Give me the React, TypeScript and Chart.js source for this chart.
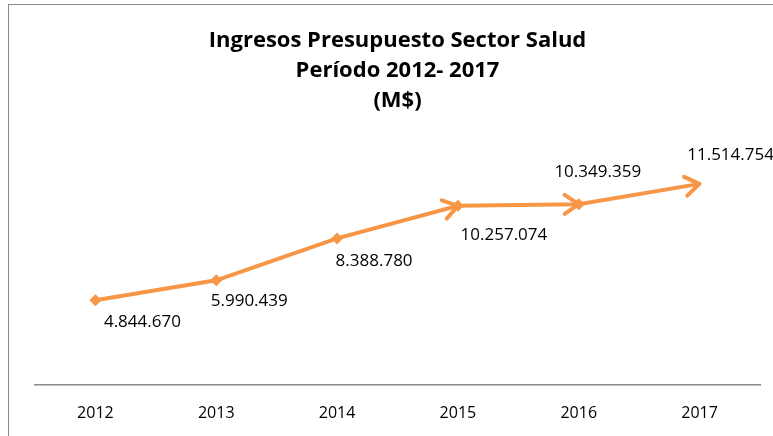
import React, { useEffect, useRef } from "react";
import { Chart, registerables } from "chart.js";

Chart.register(...registerables);

const titleLines = ["Ingresos Presupuesto Sector Salud", "Período 2012- 2017", "(M$)"];
const years = ["2012", "2013", "2014", "2015", "2016", "2017"];
const ingresos = [4844670, 5990439, 8388780, 10257074, 10349359, 11514754];
const valueLabels = ["4.844.670", "5.990.439", "8.388.780", "10.257.074", "10.349.359", "11.514.754"];

// style: label offsets relative to the point (px)
const labelDX = [47, 33, 37, 46, 19, 31];
const labelDY = [22, 21, 23, 29, -32, -29];
const arrowEnds = [3, 4, 5];
const ORANGE = "#F79646";
const FONT = "'Open Sans', sans-serif";

const decorPlugin = {
  id: "decor",
  afterDatasetsDraw(chart: any) {
    const ctx = chart.ctx;
    const meta = chart.getDatasetMeta(0);
    const pts = meta.data;
    ctx.save();
    ctx.strokeStyle = ORANGE;
    ctx.lineWidth = 4;
    ctx.lineCap = "round";
    ctx.lineJoin = "round";
    arrowEnds.forEach((i) => {
      const a = pts[i - 1];
      const b = pts[i];
      const ang = Math.atan2(b.y - a.y, b.x - a.x);
      const len = 17;
      const spread = (34 * Math.PI) / 180;
      ctx.beginPath();
      ctx.moveTo(b.x - len * Math.cos(ang - spread), b.y - len * Math.sin(ang - spread));
      ctx.lineTo(b.x, b.y);
      ctx.lineTo(b.x - len * Math.cos(ang + spread), b.y - len * Math.sin(ang + spread));
      ctx.stroke();
    });
    ctx.fillStyle = "#000";
    ctx.font = "17px " + FONT;
    ctx.textAlign = "center";
    ctx.textBaseline = "middle";
    pts.forEach((p: any, i: number) => {
      ctx.fillText(valueLabels[i], p.x + labelDX[i], p.y + labelDY[i]);
    });
    ctx.restore();
  },
};

export default function App() {
  const ref = useRef<HTMLCanvasElement | null>(null);
  useEffect(() => {
    if (!ref.current) return;
    const chart = new Chart(ref.current, {
      type: "line",
      data: {
        labels: years,
        datasets: [
          {
            data: ingresos,
            borderColor: ORANGE,
            backgroundColor: ORANGE,
            borderWidth: 4,
            pointStyle: "rectRot",
            pointRadius: [6, 6, 6, 6, 6, 0],
            pointBorderWidth: 0,
            pointBackgroundColor: ORANGE,
            tension: 0,
          },
        ],
      },
      options: {
        animation: false,
        responsive: false,
        maintainAspectRatio: false,
        layout: { padding: { left: 35, right: 13, top: 0, bottom: -6 } },
        plugins: {
          legend: { display: false },
          tooltip: { enabled: false },
          title: {
            display: true,
            text: titleLines,
            color: "#000",
            font: { family: FONT, size: 22, weight: "bold", lineHeight: 1.364 },
            padding: { top: 26, bottom: 24.5 },
          },
        },
        scales: {
          x: {
            type: "category",
            offset: true,
            grid: { display: false, drawTicks: false },
            border: { display: true, color: "#8a8a8a", width: 1.5 },
            ticks: { color: "#000", font: { family: FONT, size: 16 }, padding: 19 },
          },
          y: {
            display: false,
            min: 0,
            max: 14000000,
          },
        },
      },
      plugins: [decorPlugin],
    });
    return () => chart.destroy();
  }, []);
  return (
    <div style={{ position: "fixed", left: 0, top: 0, width: 773, height: 436, background: "#fff", overflow: "hidden" }}>
      <div
        style={{
          position: "absolute",
          left: 8,
          top: 4,
          width: 800,
          height: 500,
          border: "1px solid #8a8a8a",
        }}
      />
      <canvas ref={ref} width={773} height={436} style={{ position: "absolute", left: 0, top: 0 }} />
    </div>
  );
}
